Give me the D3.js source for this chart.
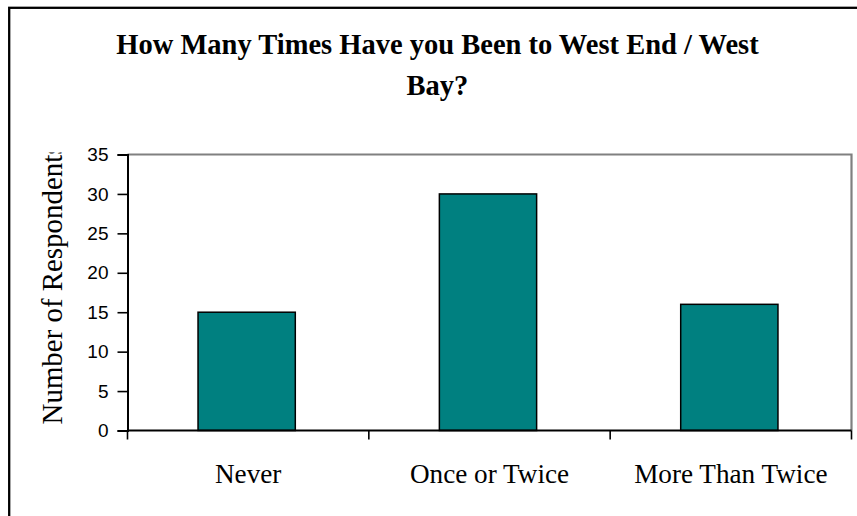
<!DOCTYPE html>
<html>
<head>
<meta charset="utf-8">
<script src="https://cdn.jsdelivr.net/npm/d3@7"></script>
<style>
  html, body { margin: 0; padding: 0; background: #fff; }
  svg { display: block; }
</style>
</head>
<body>
<svg id="chart" width="857" height="516"></svg>
<script>
const categories = ["Never", "Once or Twice", "More Than Twice"];
const values = [15, 30, 16];
const yTicks = [0, 5, 10, 15, 20, 25, 30, 35];
const titleLines = ["How Many Times Have you Been to West End / West", "Bay?"];
const yLabel = "Number of Respondents";

const svg = d3.select("#chart");
const W = 857, H = 516;
const plot = { left: 127.5, right: 851.5, top: 154.5, bottom: 430.5 };

// outer frame (extends past right/bottom edge)
svg.append("rect")
  .attr("x", 9.2).attr("y", 7.8)
  .attr("width", W + 20).attr("height", H + 20)
  .attr("fill", "none").attr("stroke", "#000").attr("stroke-width", 2.3);

// title
svg.append("g").selectAll("text").data(titleLines).join("text")
  .attr("x", 437.5)
  .attr("y", (d, i) => 53.5 + i * 41)
  .attr("text-anchor", "middle")
  .attr("font-family", "'Liberation Serif', 'Times New Roman', serif")
  .attr("font-weight", "bold")
  .attr("font-size", "28.5px")
  .text(d => d);

const x = d3.scaleBand().domain(categories).range([plot.left, plot.right]).padding(0);
const y = d3.scaleLinear().domain([0, 35]).range([plot.bottom, plot.top]);

// plot border top & right (grey)
svg.append("path")
  .attr("d", `M${plot.left},${plot.top}H${plot.right}V${plot.bottom}`)
  .attr("fill", "none").attr("stroke", "#808080").attr("stroke-width", 2.2);

// bars
const barW = x.bandwidth() * 0.403;
svg.append("g").selectAll("rect").data(values).join("rect")
  .attr("x", (d, i) => x(categories[i]) + x.bandwidth() / 2 - barW / 2 - 1.5)
  .attr("y", d => y(d))
  .attr("width", barW)
  .attr("height", d => y(0) - y(d))
  .attr("fill", "#008080")
  .attr("stroke", "#000")
  .attr("stroke-width", 1.5);

// y axis
const yAxis = d3.axisLeft(y).tickValues(yTicks).tickSize(10).tickPadding(9).tickFormat(d3.format("d"));
const gy = svg.append("g").attr("transform", `translate(${plot.left},0)`).call(yAxis);
gy.select(".domain").attr("stroke", "#000").attr("stroke-width", 2);
gy.selectAll(".tick line").attr("stroke", "#000").attr("stroke-width", 1.6);
gy.selectAll(".tick text")
  .attr("font-family", "'Liberation Sans', Arial, sans-serif")
  .attr("font-size", "19px").attr("fill", "#000");

// x axis
const xTickPos = [plot.left, ...categories.map(c => x(c) + x.bandwidth())];
const gx = svg.append("g").attr("transform", `translate(0,${plot.bottom})`);
gx.append("line").attr("x1", plot.left).attr("x2", plot.right)
  .attr("stroke", "#000").attr("stroke-width", 2);
gx.selectAll("line.tk").data(xTickPos).join("line").attr("class", "tk")
  .attr("x1", d => d).attr("x2", d => d).attr("y1", 0).attr("y2", 9)
  .attr("stroke", "#000").attr("stroke-width", 1.6);
gx.selectAll("text").data(categories).join("text")
  .attr("x", d => x(d) + x.bandwidth() / 2)
  .attr("y", 52.5)
  .attr("text-anchor", "middle")
  .attr("font-family", "'Liberation Serif', 'Times New Roman', serif")
  .attr("font-size", "27.2px").attr("fill", "#000")
  .text(d => d);

// y label, clipped at the top of the plot
svg.append("clipPath").attr("id", "ylabclip")
  .append("rect").attr("x", 0).attr("y", 152.5).attr("width", 120).attr("height", 400);
svg.append("g").attr("clip-path", "url(#ylabclip)")
  .append("text")
  .attr("transform", "translate(62,284) rotate(-90)")
  .attr("text-anchor", "middle")
  .attr("font-family", "'Liberation Serif', 'Times New Roman', serif")
  .attr("font-size", "28.9px").attr("fill", "#000")
  .text(yLabel);
</script>
</body>
</html>
